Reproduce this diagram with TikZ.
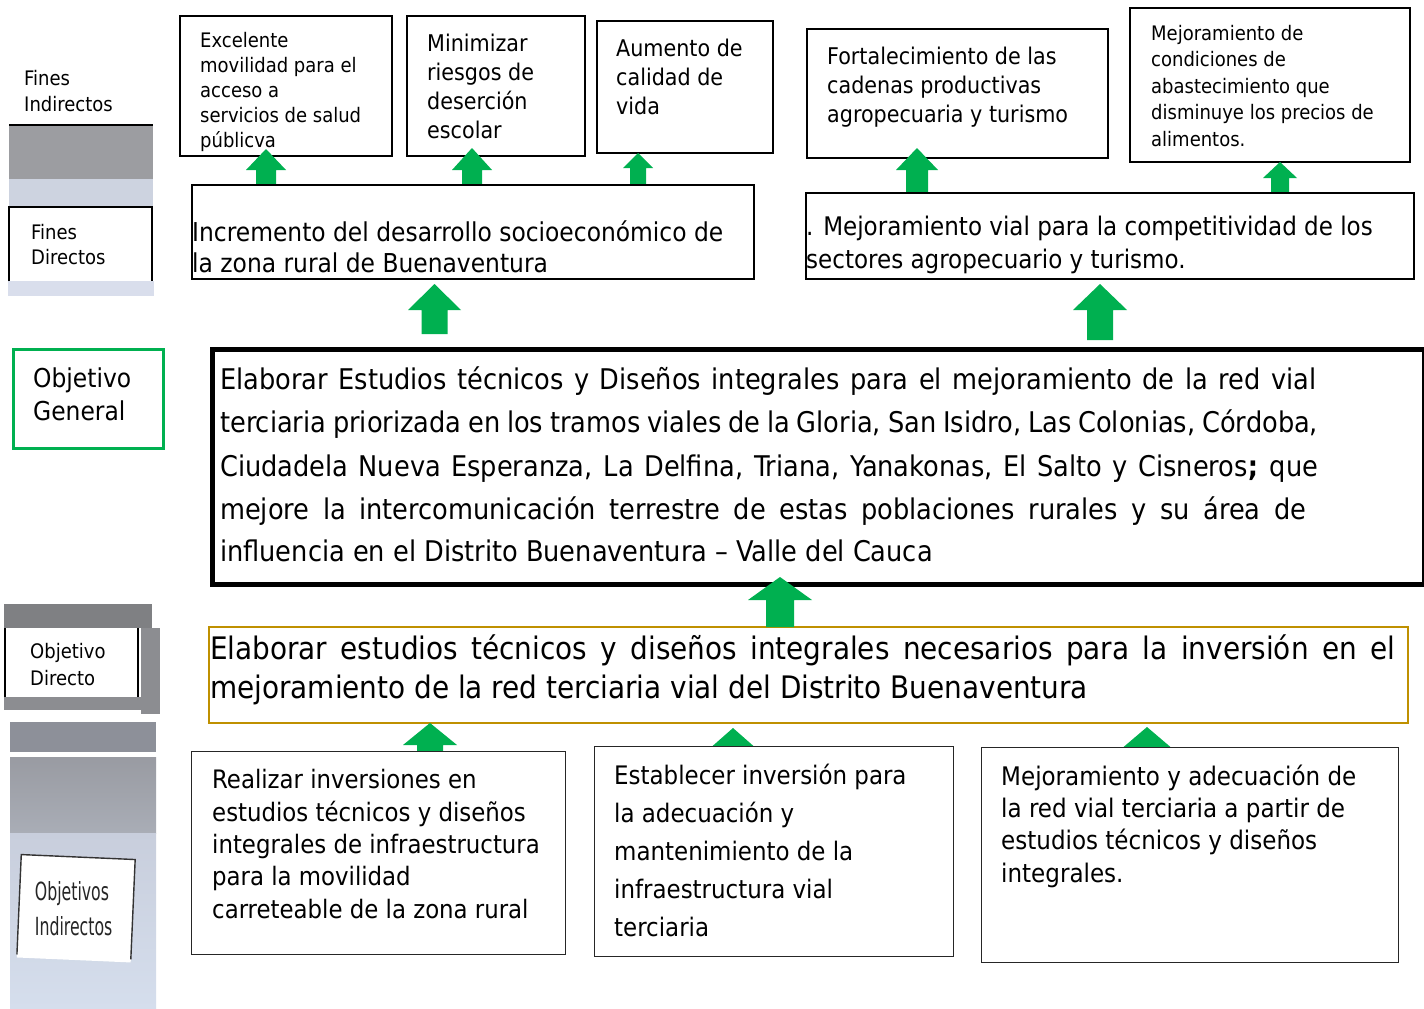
\documentclass[tikz,border=0pt]{standalone}
\usepackage{fontspec}
\setmainfont{DejaVu Sans Condensed}
\definecolor{vgreen}{HTML}{00B050}
\definecolor{gold}{HTML}{BF9000}
\definecolor{gA}{HTML}{9C9DA1}
\definecolor{lbA}{HTML}{CDD3E0}
\definecolor{lbB}{HTML}{D9DEEC}
\definecolor{gB}{HTML}{7F8083}
\definecolor{gC}{HTML}{8C8D91}
\definecolor{gD}{HTML}{8D9099}
\definecolor{gE}{HTML}{999BA2}
\definecolor{gF}{HTML}{A9ADB6}
\definecolor{lbC}{HTML}{C8CEDC}
\definecolor{lbD}{HTML}{D5DEED}
\newcommand\fs[2]{\fontsize{#1}{#2}\selectfont}
\newcommand\garrow[6]{%
  \fill[vgreen] (#1,#2) -- (#1+#5,#3) -- (#1+#6,#3) -- (#1+#6,#4) -- (#1-#6,#4) -- (#1-#6,#3) -- (#1-#5,#3) -- cycle;}
\tikzset{
  bx/.style={draw=black, line width=1.8pt, fill=white, inner sep=0pt, anchor=north west},
  bxb/.style={draw=black!85, line width=1.3pt, fill=white, inner sep=0pt, anchor=north west},
  txt/.style={anchor=base west, align=left, inner sep=0pt, text=black},
}
\begin{document}
\begin{tikzpicture}[x=1pt,y=-1pt]
\useasboundingbox[fill=white] (0,0) rectangle (1424,1009);

% (text nodes are placed at the baseline of their LAST line)
% ---------- left panel ----------
\node[txt, font=\fs{20}{26}] (lfi) at (24,111) {Fines\\Indirectos};
\fill[gA] (9,126) rectangle (153,179);
\draw[line width=2pt] (9,125) -- (153,125);
\fill[lbA] (9,179) rectangle (153,206);
\fill[lbB] (8,281) rectangle (154,296);
\draw[line width=1.6pt] (9,281) -- (9,207) -- (152,207) -- (152,281);
\node[txt, font=\fs{20}{25}] (lfd) at (31,264) {Fines\\Directos};

\node[draw=vgreen, line width=3pt, minimum width=150pt, minimum height=99pt, anchor=north west, inner sep=0pt] (log) at (12,348) {};
\node[txt, font=\fs{26}{33}] (logt) at (33,420) {Objetivo\\General};

\fill[gB] (4,604) rectangle (152,628);
\fill[gC] (141,628) rectangle (160,714);
\fill[gC] (4,697) rectangle (152,710);
\fill[white] (4,628) rectangle (139,697);
\draw[line width=1.5pt] (5,628) -- (5,697);
\draw[line width=1.5pt] (138,628) -- (138,697);
\node[txt, font=\fs{20}{27}] (lod) at (30,685) {Objetivo\\Directo};

\fill[gD] (10,722) rectangle (156,752);
\shade[top color=gE, bottom color=gF] (10,757) rectangle (156,833);
\shade[top color=lbC, bottom color=lbD] (10,833) rectangle (156,1009);
\begin{scope}[rotate around={-2.5:(76,908)}]
  \fill[white] (19,857) rectangle (133,960);
  \draw[black!80, line width=1.4pt] (19,957) -- (19,857) -- (133,857) -- (133,957);
  \node[txt, font=\fs{25}{35}, text=black!85, xscale=0.7] (loi) at (36,937) {Objetivos\\Indirectos};
\end{scope}

% ---------- top boxes ----------
\node[bx, minimum width=212pt, minimum height=140pt] (f1) at (179,15) {};
\node[txt, font=\fs{20}{25}] (f1t) at (200,147) {Excelente\\movilidad para el\\acceso a\\servicios de salud\\públicva};
\node[bx, minimum width=178pt, minimum height=140pt] (f2) at (406,15) {};
\node[txt, font=\fs{23}{29}] (f2t) at (427,138) {Minimizar\\riesgos de\\deserción\\escolar};
\node[bx, minimum width=176pt, minimum height=132pt] (f3) at (596,20) {};
\node[txt, font=\fs{23}{29}] (f3t) at (616,114) {Aumento de\\calidad de\\vida};
\node[bx, minimum width=301pt, minimum height=129pt] (f4) at (806,28) {};
\node[txt, font=\fs{23}{29}] (f4t) at (827,122) {Fortalecimiento de las\\cadenas productivas\\agropecuaria y turismo};
\node[bx, minimum width=280pt, minimum height=154pt] (f5) at (1129,7) {};
\node[txt, font=\fs{20}{26.5}] (f5t) at (1151,146) {Mejoramiento de\\condiciones de\\abastecimiento que\\disminuye los precios de\\alimentos.};

% ---------- general objective ----------
\node[draw=black, line width=5pt, fill=white, minimum width=1212pt, minimum height=235pt, anchor=north west, inner sep=0pt] (og) at (209.5,347) {};
\node[txt, font=\fs{28.5}{43.5}] (ogt) at (220,561) {%
\makebox[1096pt][s]{Elaborar Estudios técnicos y Diseños integrales para el mejoramiento de la red vial}\\
\makebox[1098pt][s]{terciaria priorizada en los tramos viales de la Gloria, San Isidro, Las Colonias, Córdoba,}\\
\makebox[1098pt][s]{Ciudadela Nueva Esperanza, La Delfina, Triana, Yanakonas, El Salto y Cisneros\textbf{;} que}\\
\makebox[1086pt][s]{mejore la intercomunicación terrestre de estas poblaciones rurales y su área de}\\[-2pt]
influencia en el Distrito Buenaventura – Valle del Cauca};

% ---------- direct objective ----------
\node[draw=gold, line width=2.2pt, fill=white, minimum width=1199pt, minimum height=96pt, anchor=north west, inner sep=0pt] (od) at (208,626) {};
\node[txt, font=\fs{31}{39}] (odt) at (210,698) {%
\makebox[1185pt][s]{Elaborar estudios técnicos y diseños integrales necesarios para la inversión en el}\\
mejoramiento de la red terciaria vial del Distrito Buenaventura};

% ---------- arrows ----------
\garrow{266}{149}{170}{190}{20}{10}
\garrow{472}{148}{170}{190}{20}{10}
\garrow{638}{153}{168}{190}{15}{8}
\garrow{917}{148}{170}{195}{21}{11}
\garrow{1280}{162}{178}{197}{17}{9}
\garrow{434.5}{284}{310}{334}{26.5}{13}
\garrow{1100}{284}{310}{340}{27}{13}
\garrow{780}{577}{600}{627}{32}{14}
\garrow{430}{723}{745}{760}{27}{13}
\garrow{733}{728}{750}{760}{25}{12}
\garrow{1147}{727}{750}{760}{27}{13}

% ---------- direct ends ----------
\node[bx, minimum width=562pt, minimum height=94pt] (fa) at (191,184) {};
\node[txt, font=\fs{26}{31}] (fat) at (192,272) {Incremento del desarrollo socioeconómico de\\la zona rural de Buenaventura};
\node[bx, minimum width=608pt, minimum height=86pt] (fb) at (805,192) {};
\node[txt, font=\fs{25.6}{33}] (fbt) at (806,268) {. Mejoramiento vial para la competitividad de los\\sectores agropecuario y turismo.};

% ---------- indirect objectives ----------
\node[bxb, minimum width=374pt, minimum height=203pt] (c1) at (191,751) {};
\node[txt, font=\fs{25.4}{32.3}] (c1t) at (212,918) {Realizar inversiones en\\estudios técnicos y diseños\\integrales de infraestructura\\para la movilidad\\carreteable de la zona rural};
\node[bxb, minimum width=359pt, minimum height=210pt] (c2) at (594,746) {};
\node[txt, font=\fs{25.5}{37.8}] (c2t) at (614,936) {Establecer inversión para\\la adecuación y\\mantenimiento de la\\infraestructura vial\\terciaria};
\node[bxb, minimum width=417pt, minimum height=215pt] (c3) at (981,747) {};
\node[txt, font=\fs{25.6}{32.3}] (c3t) at (1001,882) {Mejoramiento y adecuación de\\la red vial terciaria a partir de\\estudios técnicos y diseños\\integrales.};
\end{tikzpicture}
\end{document}
